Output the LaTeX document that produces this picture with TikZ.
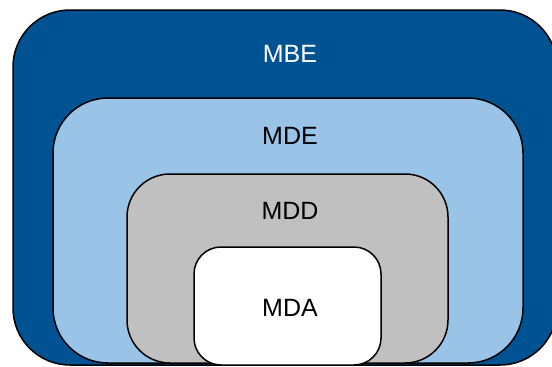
\documentclass[tikz,border=0pt]{standalone}
\usepackage{fontspec}
\setmainfont{Liberation Sans}
\definecolor{outerblue}{RGB}{0,83,147}
\definecolor{paleblue}{RGB}{153,196,232}
\definecolor{midgray}{RGB}{192,192,192}
\begin{document}
\begin{tikzpicture}[x=1pt,y=-1pt,
  layer/.style={draw=black,line width=1.5pt},
  tag/.style={inner sep=0pt,font=\fontsize{25}{30}\selectfont}]
\useasboundingbox (0,0) rectangle (552,367);
\clip (0,0) rectangle (552,367);
% nested domains, outermost first
\draw[layer,fill=outerblue,rounded corners=57pt] (13,10) rectangle (557,365);
\draw[layer,fill=paleblue,rounded corners=55pt] (53,98) rectangle (523,363);
\draw[layer,fill=midgray,rounded corners=43pt] (127,174) rectangle (448,363);
\draw[layer,fill=white,rounded corners=27pt] (194,247) rectangle (381,365);
% labels
\node[tag,text=white] (mbe) at (290,54) {MBE};
\node[tag] (mde) at (290,136) {MDE};
\node[tag] (mdd) at (290,211) {MDD};
\node[tag] (mda) at (290,307.5) {MDA};
\end{tikzpicture}
\end{document}
